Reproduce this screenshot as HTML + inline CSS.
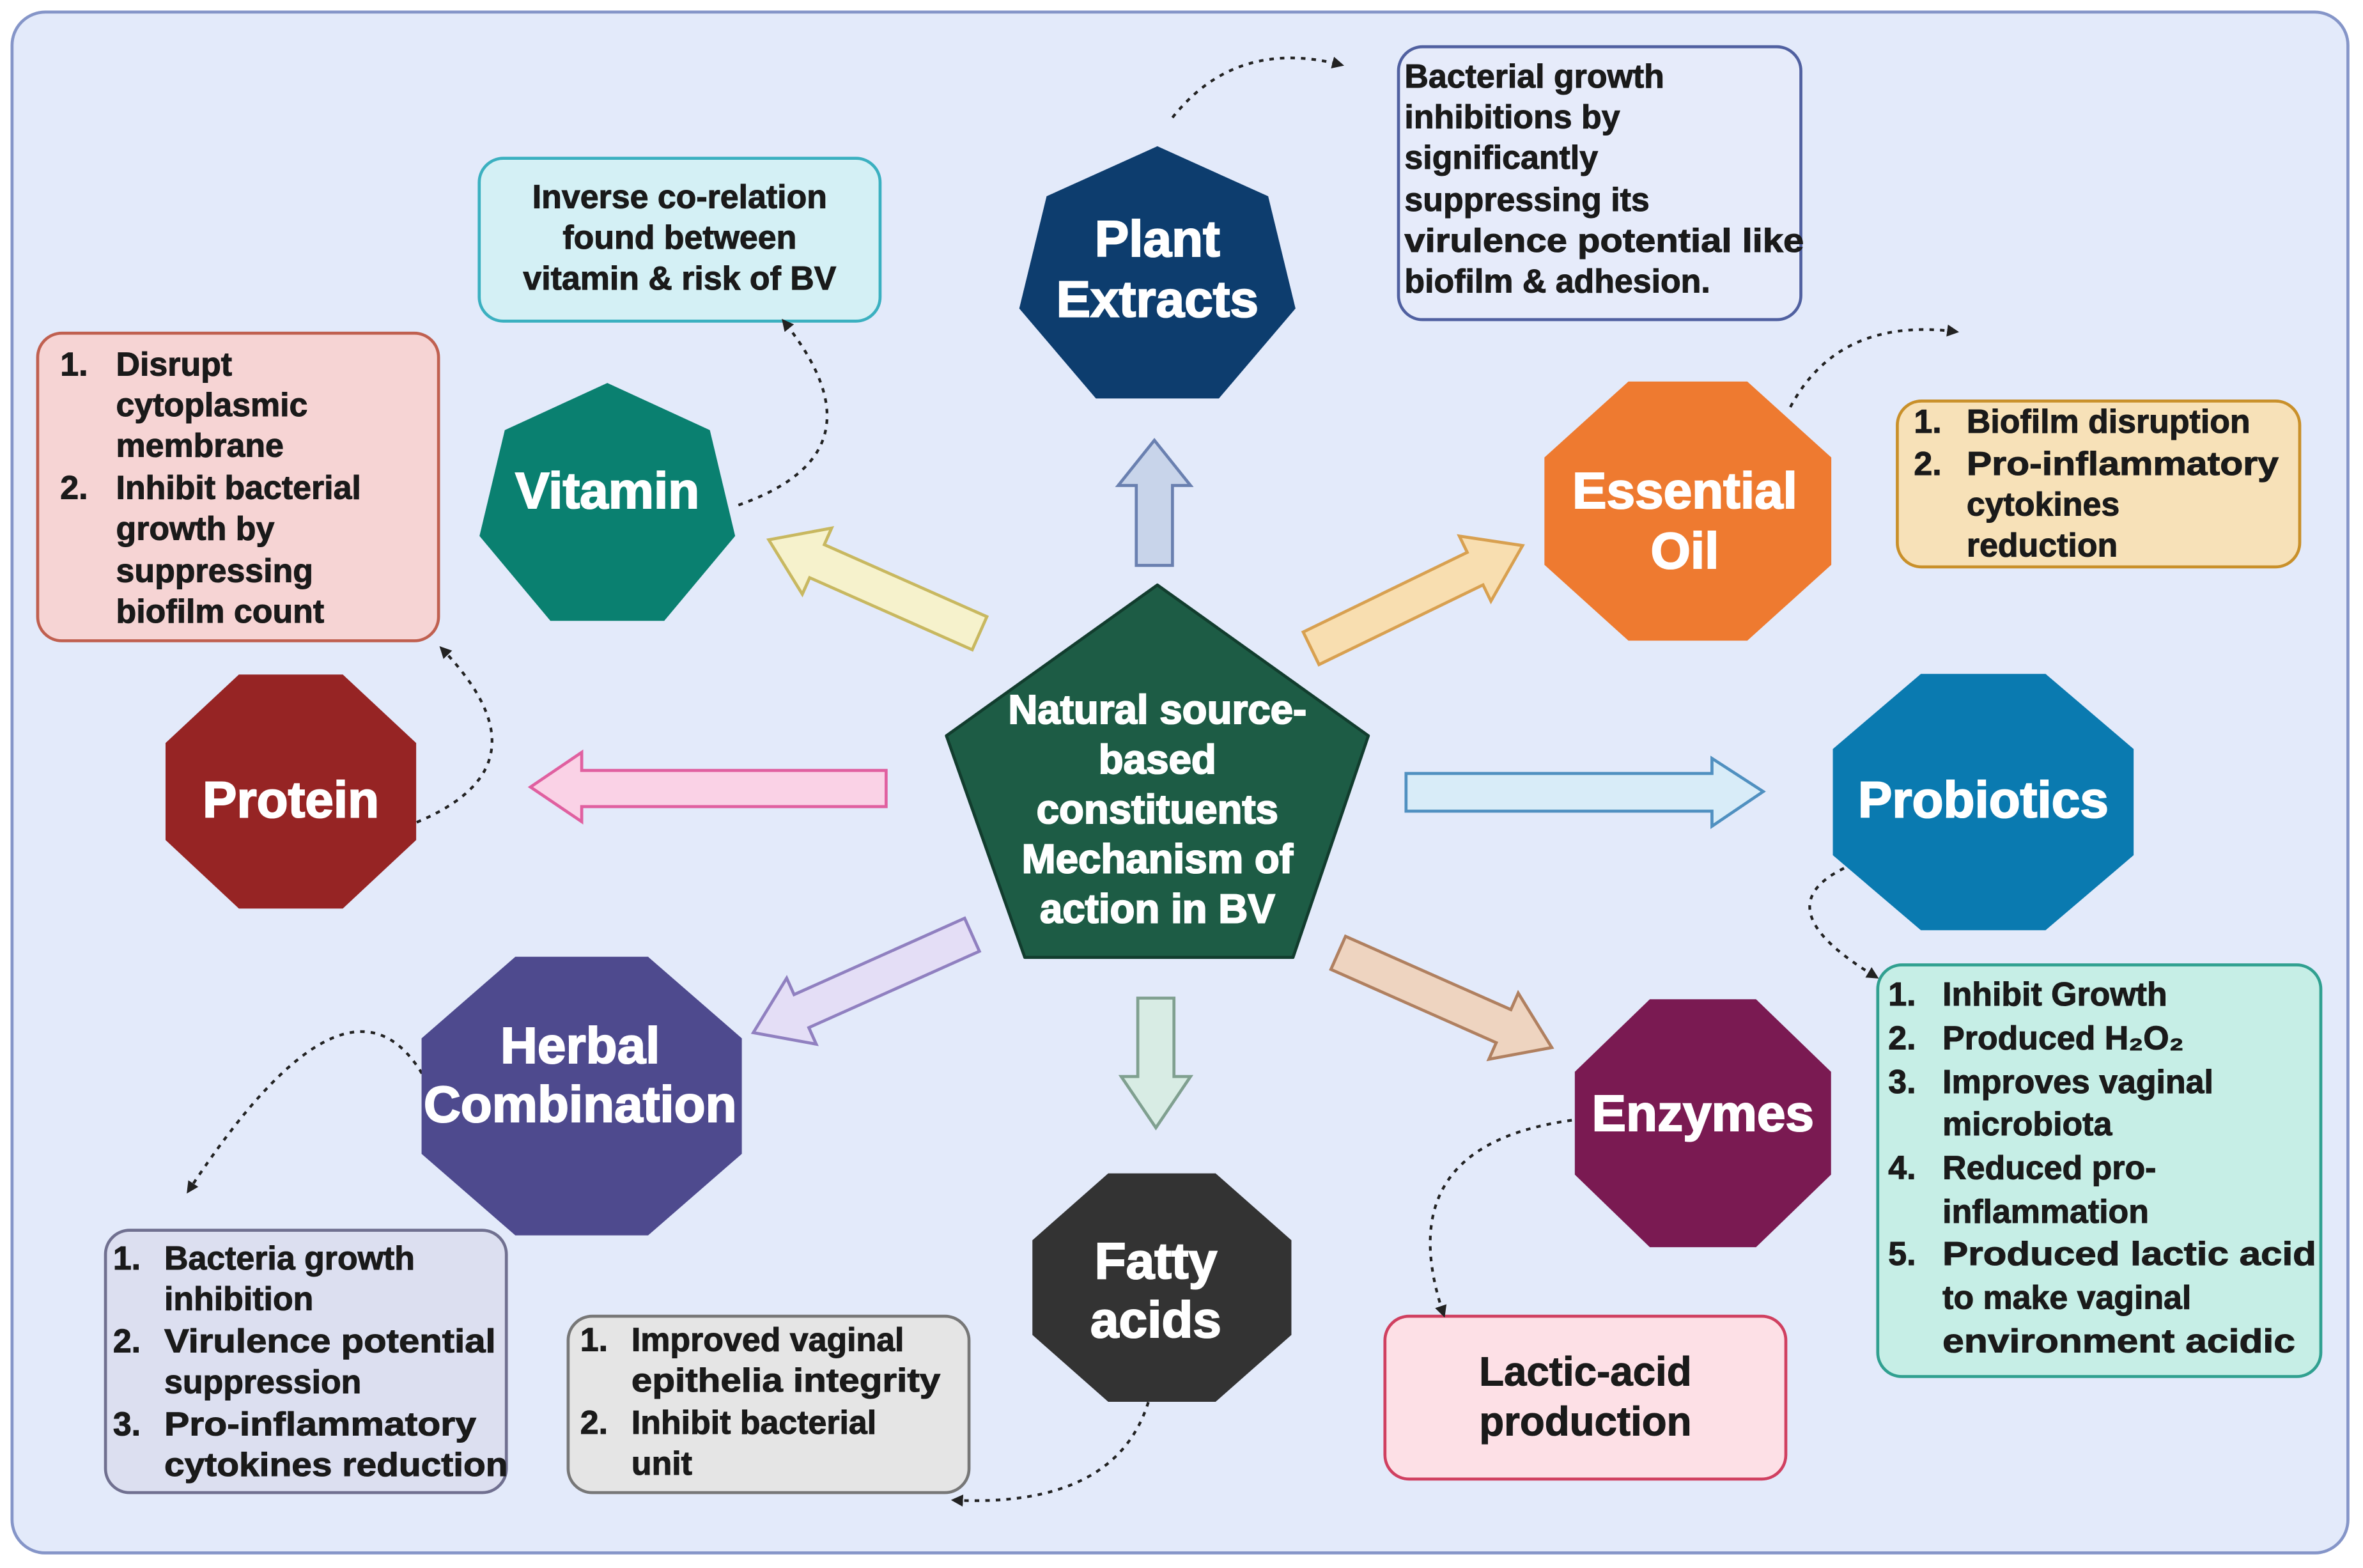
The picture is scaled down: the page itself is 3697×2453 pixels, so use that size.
<!DOCTYPE html>
<html><head><meta charset="utf-8"><style>
html,body{margin:0;padding:0;background:#fff;}
svg{display:block;}
text{font-family:"Liberation Sans",sans-serif;font-weight:bold;}
.w{fill:#fff;stroke:#fff;stroke-width:0.9;}
.b{fill:#1a1a1a;font-size:22px;stroke:#1a1a1a;stroke-width:0.45;}
</style></head><body>
<svg width="3697" height="2453" viewBox="0 0 1568 1040" preserveAspectRatio="none" xmlns="http://www.w3.org/2000/svg">
<defs>
<polygon id="oct" points="0.383,-0.924 0.924,-0.383 0.924,0.383 0.383,0.924 -0.383,0.924 -0.924,0.383 -0.924,-0.383 -0.383,-0.924"/>
<polygon id="hep" points="0,-1 0.782,-0.623 0.975,0.223 0.434,0.901 -0.434,0.901 -0.975,0.223 -0.782,-0.623"/>
<marker id="ah" markerWidth="8" markerHeight="8" refX="6" refY="4" orient="auto" markerUnits="userSpaceOnUse"><path d="M0,0 L8,4 L0,8 z" fill="#222"/></marker>
</defs>
<rect x="8" y="8" width="1550" height="1022" rx="22" fill="#e3eafa" stroke="#8595c8" stroke-width="2"/>

<rect x="318" y="105" width="266" height="108" rx="16" fill="#d4f0f5" stroke="#3bb0c0" stroke-width="2"/>
<text class="b" text-anchor="middle"><tspan x="451" y="138">Inverse co-relation</tspan><tspan x="451" y="165">found between</tspan><tspan x="451" y="192">vitamin &amp; risk of BV</tspan></text>

<rect x="928" y="31" width="267" height="181" rx="16" fill="#e6ebfa" stroke="#5060a0" stroke-width="2"/>
<text class="b"><tspan x="932" y="58">Bacterial growth</tspan><tspan x="932" y="85">inhibitions by</tspan><tspan x="932" y="112">significantly</tspan><tspan x="932" y="140">suppressing its</tspan><tspan x="932" y="167" textLength="265" lengthAdjust="spacingAndGlyphs">virulence potential like</tspan><tspan x="932" y="194">biofilm &amp; adhesion.</tspan></text>

<rect x="25" y="221" width="266" height="204" rx="16" fill="#f6d4d4" stroke="#c06050" stroke-width="2"/>
<text class="b"><tspan x="40" y="249">1.</tspan><tspan x="77" y="249">Disrupt</tspan><tspan x="77" y="276">cytoplasmic</tspan><tspan x="77" y="303">membrane</tspan><tspan x="40" y="331">2.</tspan><tspan x="77" y="331">Inhibit bacterial</tspan><tspan x="77" y="358">growth by</tspan><tspan x="77" y="386">suppressing</tspan><tspan x="77" y="413">biofilm count</tspan></text>

<rect x="1259" y="266" width="267" height="110" rx="16" fill="#f7e1b8" stroke="#c9902a" stroke-width="2"/>
<text class="b"><tspan x="1270" y="287">1.</tspan><tspan x="1305" y="287">Biofilm disruption</tspan><tspan x="1270" y="315">2.</tspan><tspan x="1305" y="315" textLength="207" lengthAdjust="spacingAndGlyphs">Pro-inflammatory</tspan><tspan x="1305" y="342">cytokines</tspan><tspan x="1305" y="369">reduction</tspan></text>

<rect x="1246" y="640" width="294" height="273" rx="16" fill="#c6eee6" stroke="#30a090" stroke-width="2"/>
<text class="b"><tspan x="1253" y="667">1.</tspan><tspan x="1289" y="667">Inhibit Growth</tspan><tspan x="1253" y="696">2.</tspan><tspan x="1289" y="696">Produced H₂O₂</tspan><tspan x="1253" y="725">3.</tspan><tspan x="1289" y="725">Improves vaginal</tspan><tspan x="1289" y="753">microbiota</tspan><tspan x="1253" y="782">4.</tspan><tspan x="1289" y="782">Reduced pro-</tspan><tspan x="1289" y="811">inflammation</tspan><tspan x="1253" y="839">5.</tspan><tspan x="1289" y="839" textLength="248" lengthAdjust="spacingAndGlyphs">Produced lactic acid</tspan><tspan x="1289" y="868">to make vaginal</tspan><tspan x="1289" y="897" textLength="234" lengthAdjust="spacingAndGlyphs">environment acidic</tspan></text>

<rect x="919" y="873" width="266" height="108" rx="16" fill="#fde0e6" stroke="#d04060" stroke-width="2"/>
<text class="b" text-anchor="middle" style="font-size:27px"><tspan x="1052" y="919">Lactic-acid</tspan><tspan x="1052" y="952">production</tspan></text>

<rect x="377" y="873" width="266" height="117" rx="16" fill="#e5e5e5" stroke="#777" stroke-width="2"/>
<text class="b"><tspan x="385" y="896">1.</tspan><tspan x="419" y="896">Improved vaginal</tspan><tspan x="419" y="923" textLength="205" lengthAdjust="spacingAndGlyphs">epithelia integrity</tspan><tspan x="385" y="951">2.</tspan><tspan x="419" y="951">Inhibit bacterial</tspan><tspan x="419" y="978">unit</tspan></text>

<rect x="70" y="816" width="266" height="174" rx="16" fill="#dcdff0" stroke="#707090" stroke-width="2"/>
<text class="b"><tspan x="75" y="842">1.</tspan><tspan x="109" y="842">Bacteria growth</tspan><tspan x="109" y="869">inhibition</tspan><tspan x="75" y="897">2.</tspan><tspan x="109" y="897" textLength="220" lengthAdjust="spacingAndGlyphs">Virulence potential</tspan><tspan x="109" y="924">suppression</tspan><tspan x="75" y="952">3.</tspan><tspan x="109" y="952" textLength="207" lengthAdjust="spacingAndGlyphs">Pro-inflammatory</tspan><tspan x="109" y="979" textLength="228" lengthAdjust="spacingAndGlyphs">cytokines reduction</tspan></text>

<g stroke-width="2" stroke-linejoin="miter">
<polygon points="754,375 754,322 742,322 766,292 790,322 778,322 778,375" fill="#c8d4ea" stroke="#6a80b0"/>
<polygon points="933,513 1136,513 1136,503 1170,525 1136,548 1136,538 933,538" fill="#d8ecf8" stroke="#5090c0"/>
<polygon points="588,511 386,511 386,499 352,522 386,545 386,535 588,535" fill="#fad2e6" stroke="#e060a0"/>
<polygon points="755,662 779,662 779,714 790,714 767,748 744,714 755,714" fill="#d8ece4" stroke="#80a090"/>
<polygon points="0,-12 118,-12 118,-24 153,0 118,24 118,12 0,12" transform="translate(650,420) rotate(203.9)" fill="#f6f2cc" stroke="#c8b860"/>
<polygon points="0,-12 121,-12 121,-24 156,0 121,24 121,12 0,12" transform="translate(870,430) rotate(-25.9)" fill="#f8deb0" stroke="#d8a050"/>
<polygon points="0,-12 124,-12 124,-24 159,0 124,24 124,12 0,12" transform="translate(645,620) rotate(155.9)" fill="#e4def6" stroke="#9080c0"/>
<polygon points="0,-12 120,-12 120,-24 155,0 120,24 120,12 0,12" transform="translate(888,632) rotate(23.9)" fill="#eed4c0" stroke="#b08060"/>
</g>

<g fill="none" stroke="#222" stroke-width="1.8" stroke-dasharray="3,4" marker-end="url(#ah)">
<path d="M778,78 Q820,25 890,43"/>
<path d="M490,335 Q590,300 520,213"/>
<path d="M270,548 Q370,510 293,430"/>
<path d="M1188,270 Q1220,210 1298,220"/>
<path d="M1230,573 Q1165,600 1245,648"/>
<path d="M280,712 Q230,630 125,790"/>
<path d="M1043,743 Q920,760 958,872"/>
<path d="M762,930 Q740,1000 633,995"/>
</g>

<use href="#hep" transform="translate(768,185) scale(94,88)" fill="#0d3d6e"/>
<use href="#hep" transform="translate(403,337) scale(87,83)" fill="#0a8070"/>
<use href="#oct" transform="translate(1120,339) scale(103,93)" fill="#ee7a30"/>
<use href="#oct" transform="translate(193,525) scale(90,84)" fill="#962424"/>
<use href="#oct" transform="translate(1316,532) scale(108,92)" fill="#0a7ab0"/>
<use href="#oct" transform="translate(386,727) scale(115,100)" fill="#4e4a8e"/>
<use href="#oct" transform="translate(771,854) scale(93,82)" fill="#333333"/>
<use href="#oct" transform="translate(1130,745) scale(92,89)" fill="#7a1a52"/>
<polygon points="768,388 908,488 858,635 680,635 628,488" fill="#1d5c45" stroke="#123d2e" stroke-width="2" stroke-linejoin="round"/>

<g class="w" text-anchor="middle" style="font-size:34px">
<text x="768" y="170">Plant</text><text x="768" y="210">Extracts</text>
<text x="403" y="337">Vitamin</text>
<text x="1118" y="337">Essential</text><text x="1118" y="377">Oil</text>
<text x="193" y="542">Protein</text>
<text x="1316" y="542">Probiotics</text>
<text x="385" y="705">Herbal</text><text x="385" y="744">Combination</text>
<text x="767" y="848">Fatty</text><text x="767" y="887">acids</text>
<text x="1130" y="750">Enzymes</text>
</g>
<g class="w" text-anchor="middle" style="font-size:27px">
<text x="768" y="480">Natural source-</text>
<text x="768" y="513">based</text>
<text x="768" y="546">constituents</text>
<text x="768" y="579">Mechanism of</text>
<text x="768" y="612">action in BV</text>
</g>
</svg>
</body></html>
